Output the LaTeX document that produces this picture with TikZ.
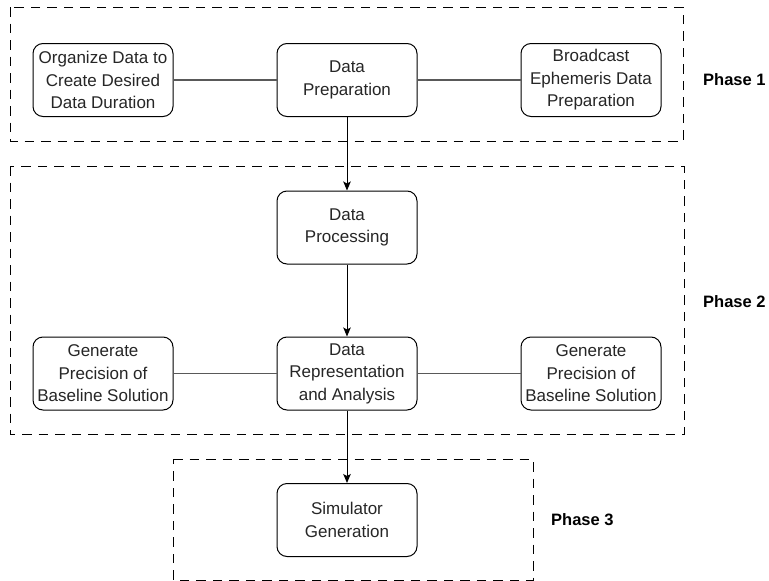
\documentclass[tikz,border=0pt]{standalone}
\usepackage{fontspec}
\setmainfont{Liberation Sans}
\usetikzlibrary{arrows.meta}
\begin{document}
\begin{tikzpicture}[x=1pt,y=-1pt,
  box/.style={draw, line width=1pt, rounded corners=10pt, minimum width=140pt, minimum height=73pt, inner sep=1pt, align=center, font=\fontsize{17}{22.5}\selectfont, text=black!85},
  phase/.style={draw, line width=1pt, dash pattern=on 9.5pt off 7pt},
  plabel/.style={anchor=west, inner sep=0pt, font=\fontsize{16.5}{19}\selectfont\bfseries},
  link/.style={line width=1.5pt, draw=black!65},
  flow/.style={line width=1pt, -{Stealth[length=9pt,width=7.5pt,inset=2pt]}}]
\useasboundingbox (0,0) rectangle (769,581);
\fill[white] (0,0) rectangle (769,581);
% phase frames
\draw[phase] (10,7) rectangle (683,141);
\draw[phase] (10,166) rectangle (684,434.5);
\draw[phase] (173,459) -- (533,459) -- (533,580) -- (173,580) -- cycle;
% nodes
\node[box] (org) at (103,80) {Organize Data to\\Create Desired\\Data Duration};
\node[box] (prep) at (347,80) {Data\\Preparation};
\node[box] (bcast) at (591,80) {Broadcast\\Ephemeris Data\\Preparation};
\node[box] (proc) at (347,227.5) {Data\\Processing};
\node[box] (genl) at (103,373.5) {Generate\\Precision of\\Baseline Solution};
\node[box] (rep) at (347,373.5) {Data\\Representation\\and Analysis};
\node[box] (genr) at (591,373.5) {Generate\\Precision of\\Baseline Solution};
\node[box] (sim) at (347,520) {Simulator\\Generation};
% labels
\node[plabel] (p1) at (703,80) {Phase 1};
\node[plabel] (p2) at (703,301.5) {Phase 2};
\node[plabel] (p3) at (551,519.5) {Phase 3};
% connectors
\draw[link] (org) -- (prep);
\draw[link] (prep) -- (bcast);
\draw[link] (genl) -- (rep);
\draw[link] (rep) -- (genr);
\draw[flow] (prep) -- (proc);
\draw[flow] (proc) -- (rep);
\draw[flow] (rep) -- (sim);
\end{tikzpicture}
\end{document}
